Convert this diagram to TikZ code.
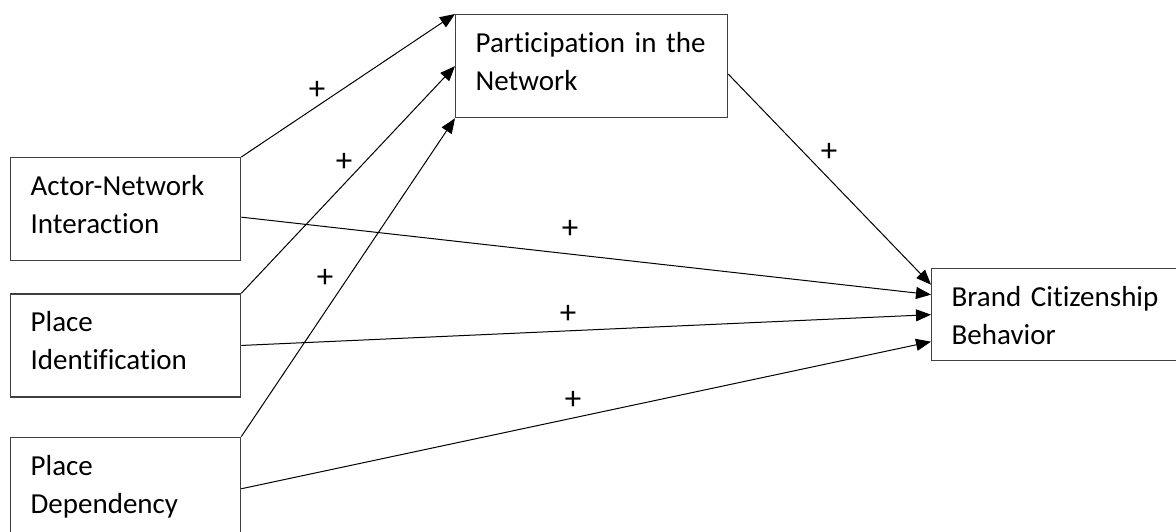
\documentclass[tikz,border=0pt]{standalone}
\usepackage{fontspec}
\setmainfont{Carlito}[Ligatures=NoCommon]
\usetikzlibrary{positioning, arrows.meta}

\begin{document}
\begin{tikzpicture}[x=1pt, y=-1pt, >={Triangle[length=15pt, width=12pt]},
    font=\fontsize{29}{38}\selectfont,
    block/.style={draw=black!75, line width=1.3pt, anchor=north west, align=left,
      inner xsep=20pt, inner ysep=18pt, text height=20pt, text depth=47pt},
    link/.style={->, line width=1pt},
    sign/.style={inner sep=0pt, font=\fontsize{33}{38}\selectfont}]
      \useasboundingbox (0,0) rectangle (1176,532);

      % Antecedents on the left
      \node[block, text width=190pt] (actor) at (10,157) {Actor-Network\\Interaction};
      \node[block, text width=190pt, below=32pt of actor] (ident) {Place\\Identification};
      \node[block, text width=190pt, below=39pt of ident] (depend) {Place\\Dependency};

      % Mediator and outcome
      \node[block, text width=232pt] (part) at (455,14) {Participation in the\\Network};
      \node[block, text width=232pt, text depth=36pt] (brand) at (931,268) {Brand Citizenship\\Behavior};

      % Paths to participation
      \draw[link] (actor.north east) -- (part.north west);
      \draw[link] (ident.north east) -- (part.west);
      \draw[link] (depend.north east) -- (part.south west);

      % Paths to brand citizenship behavior
      \draw[link] ([yshift=-8pt]part.east) -- ([yshift=30pt]brand.west);
      \draw[link] ([yshift=-8pt]actor.east) -- ([yshift=20pt]brand.west);
      \draw[link] (ident.east) -- (brand.west);
      \draw[link] (depend.east) -- ([yshift=-27pt]brand.west);

      % Signs
      \node[sign] (sAP) at (317,90) {+};
      \node[sign] (sIP) at (344,162) {+};
      \node[sign] (sDP) at (325,278) {+};
      \node[sign] (sPB) at (829,152) {+};
      \node[sign] (sAB) at (570,229) {+};
      \node[sign] (sIB) at (568,314) {+};
      \node[sign] (sDB) at (573,400) {+};
\end{tikzpicture}
\end{document}
